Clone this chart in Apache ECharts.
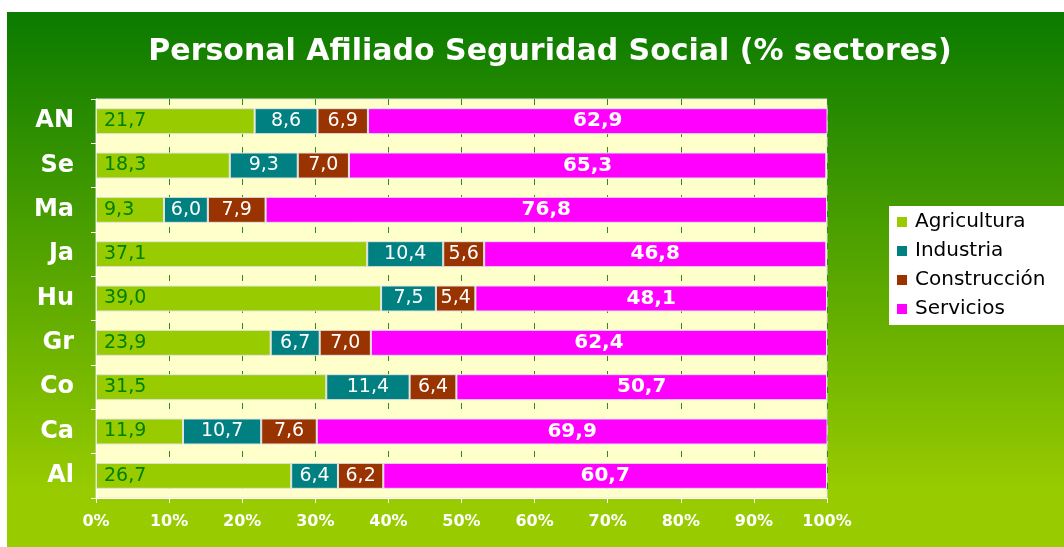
<!DOCTYPE html>
<html>
<head>
<meta charset="utf-8">
<script src="https://cdn.jsdelivr.net/npm/echarts@6/dist/echarts.min.js"></script>
<style>
  html, body { margin: 0; padding: 0; background: #fff; }
  #chart { width: 1064px; height: 547px; }
</style>
</head>
<body>
<div id="chart"></div>
<script>
// provincias (de arriba a abajo)
var provincias = ['AN', 'Se', 'Ma', 'Ja', 'Hu', 'Gr', 'Co', 'Ca', 'Al'];
var sectores = ['Agricultura', 'Industria', 'Construcción', 'Servicios'];

var agricultura  = [21.7, 18.3,  9.3, 37.1, 39.0, 23.9, 31.5, 11.9, 26.7];
var industria    = [ 8.6,  9.3,  6.0, 10.4,  7.5,  6.7, 11.4, 10.7,  6.4];
var construccion = [ 6.9,  7.0,  7.9,  5.6,  5.4,  7.0,  6.4,  7.6,  6.2];
var servicios    = [62.9, 65.3, 76.8, 46.8, 48.1, 62.4, 50.7, 69.9, 60.7];

var colores = ['#99cc00', '#008080', '#993300', '#ff00ff'];
var fuente = 'DejaVu Sans';

function coma(p) { return p.value.toFixed(1).replace('.', ','); }

function serie(nombre, datos, color, label) {
    return {
        name: nombre,
        type: 'bar',
        stack: 'total',
        data: datos,
        barWidth: 26,
        itemStyle: { color: color, borderColor: '#e4e4e4', borderWidth: 1 },
        label: label
    };
}

var chart = echarts.init(document.getElementById('chart'), null, {renderer: 'canvas'});
chart.setOption({
    backgroundColor: '#ffffff',
    animation: false,
    graphic: [{
        type: 'rect',
        z: -10,
        shape: { x: 7, y: 12, width: 1057, height: 535 },
        style: {
            fill: new echarts.graphic.LinearGradient(0, 0, 0, 1, [
                { offset: 0, color: '#0a7a00' },
                { offset: 0.9, color: '#99cc00' },
                { offset: 1, color: '#99cc00' }
            ])
        }
    }],
    title: {
        text: 'Personal Afiliado Seguridad Social (% sectores)',
        left: 545,
        textAlign: 'center',
        top: 32,
        textStyle: { color: '#fff', fontSize: 30, fontWeight: 'bold', fontFamily: fuente }
    },
    legend: {
        data: sectores,
        orient: 'vertical',
        left: 889,
        top: 206,
        backgroundColor: '#fff',
        padding: [6, 40, 6, 8],
        itemWidth: 10,
        itemHeight: 10,
        itemGap: 9,
        icon: 'rect',
        itemStyle: { borderWidth: 0 },
        textStyle: { color: '#000', fontSize: 20, fontFamily: fuente, padding: [0, 0, 0, 3] }
    },
    grid: {
        left: 96, right: 237, top: 99, bottom: 49,
        show: true,
        backgroundColor: '#ffffcc',
        borderColor: '#e0e0e0',
        borderWidth: 1
    },
    xAxis: {
        type: 'value',
        min: 0, max: 100, interval: 10,
        axisLine: { show: true, lineStyle: { color: '#fff', width: 1 } },
        axisTick: { show: true, length: 5, lineStyle: { color: '#fff' } },
        axisLabel: {
            color: '#fff', fontSize: 16, fontWeight: 'bold', fontFamily: fuente, margin: 16,
            formatter: '{value}%'
        },
        splitLine: { show: true, lineStyle: { color: '#2a8f1a', type: [6, 10], width: 1 } }
    },
    yAxis: {
        type: 'category',
        data: provincias,
        inverse: true,
        axisLine: { show: true, lineStyle: { color: '#fff', width: 1 } },
        axisTick: { show: true, length: 5, lineStyle: { color: '#fff' } },
        axisLabel: { color: '#fff', fontSize: 24, fontWeight: 'bold', fontFamily: fuente, margin: 22 }
    },
    series: [
        serie(sectores[0], agricultura, colores[0], {
            show: true, position: 'insideLeft', distance: 8, formatter: coma,
            color: '#008000', fontSize: 19, fontFamily: fuente
        }),
        serie(sectores[1], industria, colores[1], {
            show: true, position: 'inside', formatter: coma,
            color: '#fff', fontSize: 19, fontFamily: fuente
        }),
        serie(sectores[2], construccion, colores[2], {
            show: true, position: 'inside', formatter: coma,
            color: '#fff', fontSize: 19, fontFamily: fuente
        }),
        serie(sectores[3], servicios, colores[3], {
            show: true, position: 'inside', formatter: coma,
            color: '#fff', fontSize: 20, fontWeight: 'bold', fontFamily: fuente
        })
    ]
});
</script>
</body>
</html>
